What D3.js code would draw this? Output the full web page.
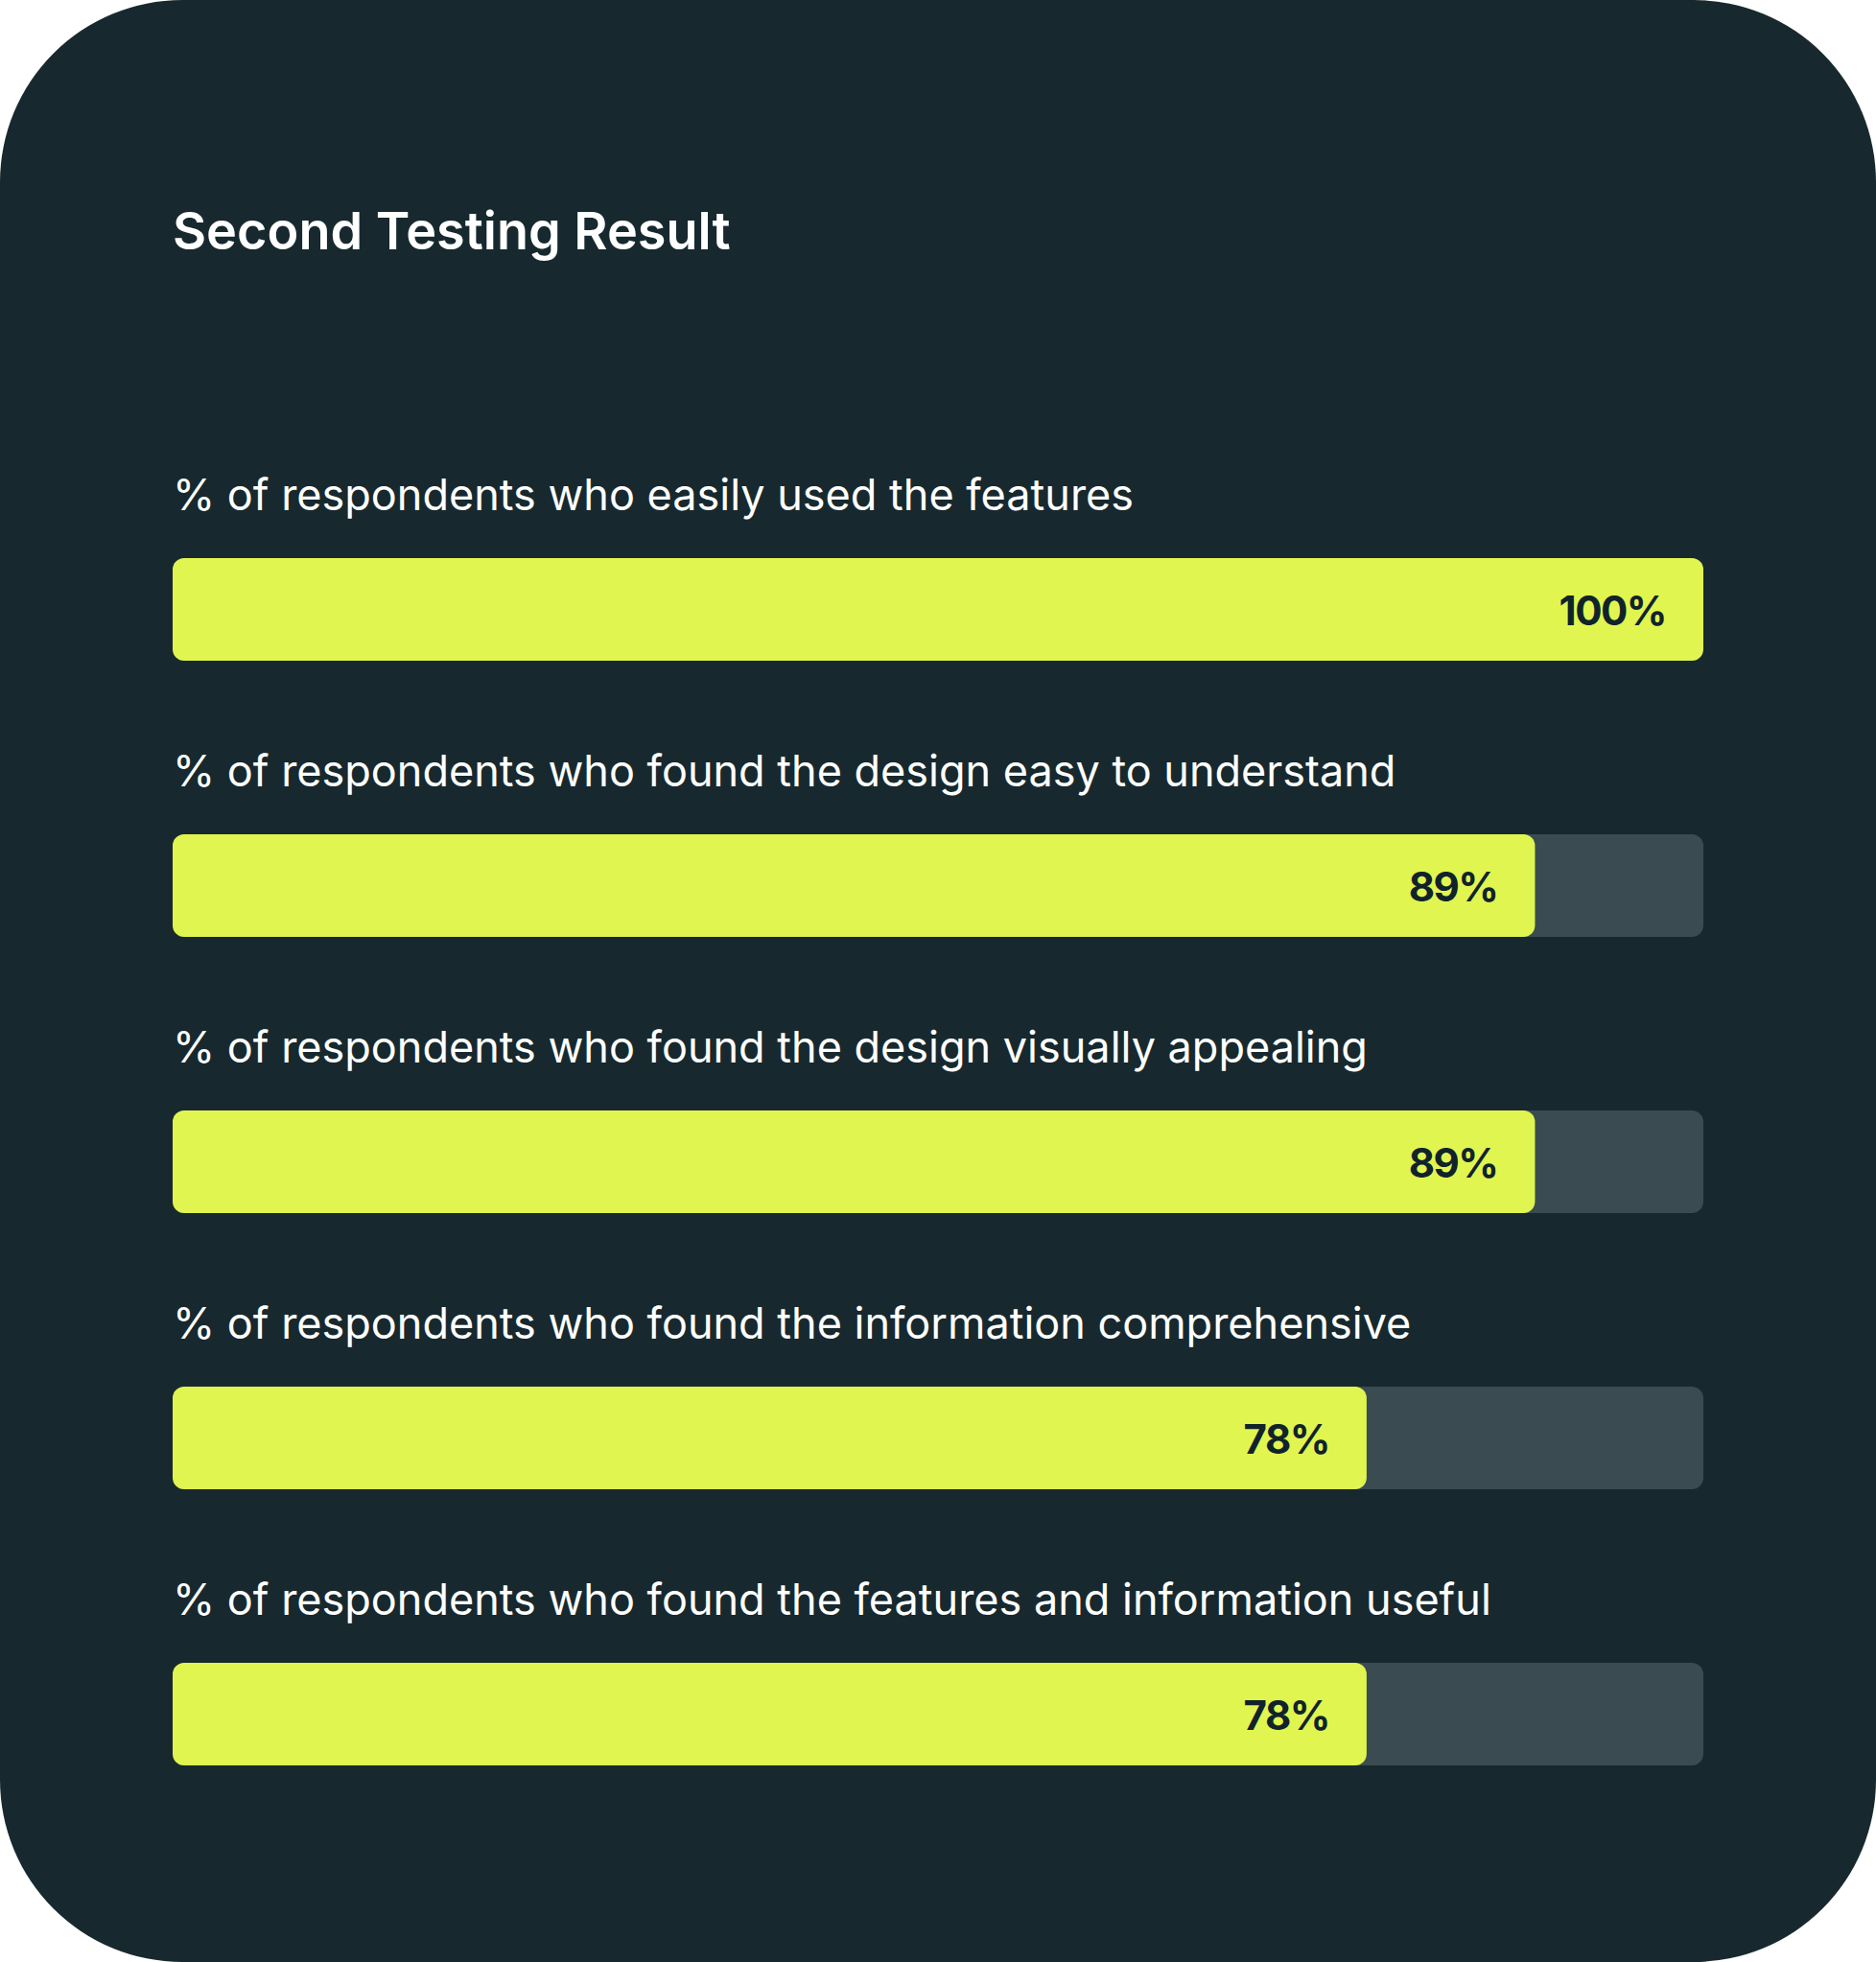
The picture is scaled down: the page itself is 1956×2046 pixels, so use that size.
<!DOCTYPE html>
<html>
<head>
<meta charset="utf-8">
<script src="https://cdn.jsdelivr.net/npm/d3@7"></script>
<style>
  html, body { margin: 0; padding: 0; background: #ffffff; }
  svg { display: block; font-family: Inter, "Noto Sans", sans-serif; }
</style>
</head>
<body>
<svg id="chart"></svg>
<script>
const title = "Second Testing Result";
const questions = [
    "% of respondents who easily used the features",
    "% of respondents who found the design easy to understand",
    "% of respondents who found the design visually appealing",
    "% of respondents who found the information comprehensive",
    "% of respondents who found the features and information useful"
];
const values = [100, 89, 89, 78, 78];

const W = 1956, H = 2046;

const svg = d3.select("#chart")
    .attr("width", W)
    .attr("height", H);

// card
svg.append("rect")
    .attr("x", 0)
    .attr("y", 0)
    .attr("width", W)
    .attr("height", H)
    .attr("rx", 190)
    .attr("ry", 190)
    .attr("fill", "#17292e");

svg.append("text")
    .attr("x", 180)
    .attr("y", 260)
    .attr("fill", "#ffffff")
    .style("font-size", "54px")
    .style("font-weight", 600)
    .text(title);

const x = d3.scaleLinear().domain([0, 100]).range([180, 1776]);
const y = d3.scaleBand()
    .domain(questions)
    .range([582, 1841])
    .paddingInner(0.628)
    .paddingOuter(0);

const row = svg.selectAll(".row")
    .data(questions.map((q, i) => ({ q, v: values[i] })))
    .enter().append("g")
    .attr("class", "row")
    .attr("transform", d => `translate(0,${y(d.q)})`);

row.append("text")
    .attr("x", x(0))
    .attr("y", -50)
    .attr("fill", "#ffffff")
    .style("font-size", "45px")
    .style("font-weight", 400)
    .text(d => d.q);

// track
row.append("rect")
    .attr("x", x(0))
    .attr("width", x(100) - x(0))
    .attr("height", y.bandwidth())
    .attr("rx", 12)
    .attr("ry", 12)
    .attr("fill", "#3a4c51");

// value bar
row.append("rect")
    .attr("x", x(0))
    .attr("width", d => x(d.v) - x(0))
    .attr("height", y.bandwidth())
    .attr("rx", 12)
    .attr("ry", 12)
    .attr("fill", "#e1f550");

row.append("text")
    .attr("x", d => x(d.v) - 39)
    .attr("y", 70)
    .attr("text-anchor", "end")
    .attr("fill", "#10232a")
    .style("font-size", "42px")
    .style("font-weight", 700)
    .style("letter-spacing", "-1.5px")
    .text(d => d.v + "%");
</script>
</body>
</html>
